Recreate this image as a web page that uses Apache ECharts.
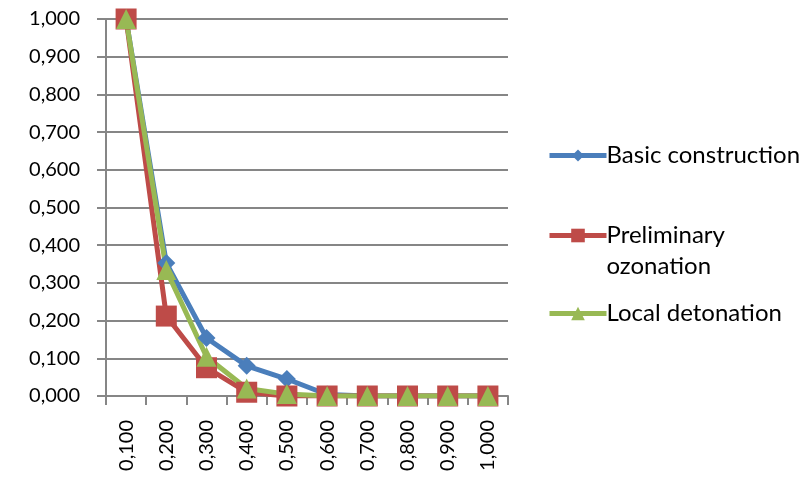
<!DOCTYPE html>
<html><head><meta charset="utf-8">
<script src="https://cdn.jsdelivr.net/npm/echarts@6/dist/echarts.min.js"></script>
<style>html,body{margin:0;padding:0;background:#fff}#c{width:805px;height:488px}</style>
</head><body><div id="c"></div>
<script>
var categories = ['0,100','0,200','0,300','0,400','0,500','0,600','0,700','0,800','0,900','1,000'];
var basic = [1.000, 0.353, 0.154, 0.080, 0.045, 0.004, 0.000, 0.000, 0.000, 0.000];
var preliminary = [1.000, 0.212, 0.075, 0.010, 0.000, 0.000, 0.000, 0.000, 0.000, 0.000];
var local = [1.000, 0.334, 0.104, 0.020, 0.005, 0.000, 0.000, 0.000, 0.000, 0.000];
var names = ['Basic construction', 'Preliminary ozonation', 'Local detonation'];

var font = 'Lato, "Liberation Sans", sans-serif';
var chart = echarts.init(document.getElementById('c'));
function leg(name, top, size, fmt) {
  return {data:[name], orient:'vertical', left:547, top:top, itemWidth:57, itemHeight:size, padding:0,
    lineStyle:{width:5}, formatter:fmt || '{name}',
    textStyle:{fontFamily:font, fontSize:24, color:'#000', lineHeight:31, padding:[0,0,0,-5]}, itemGap:0};
}
chart.setOption({
  animation:false,
  grid:{left:106, right:297, top:19, bottom:92},
  legend:[leg(names[0],140,15), leg(names[1],189,17,function(){return ' \nPreliminary\nozonation';}), leg(names[2],298,17)],
  xAxis:{type:'category', data:categories, boundaryGap:true,
    axisLine:{lineStyle:{color:'#868686', width:2}},
    axisTick:{show:true, length:9, lineStyle:{color:'#868686', width:2}},
    axisLabel:{rotate:90, fontFamily:font, fontSize:20, color:'#000', margin:24}},
  yAxis:{type:'value', min:0, max:1, interval:0.1,
    axisLine:{show:true, lineStyle:{color:'#868686', width:2}},
    axisTick:{show:true, length:9, lineStyle:{color:'#868686', width:2}},
    splitLine:{lineStyle:{color:'#868686', width:2}},
    axisLabel:{fontFamily:font, fontSize:20, color:'#000', margin:26,
      formatter:function(v){return v.toFixed(3).replace('.',',');}}},
  series:[
    {name:names[0], type:'line', data:basic, symbol:'diamond', symbolSize:18,
      lineStyle:{width:5, color:'#4a7ebb'}, itemStyle:{color:'#4a7ebb'}},
    {name:names[1], type:'line', data:preliminary, symbol:'rect', symbolSize:21,
      lineStyle:{width:5, color:'#be4b48'}, itemStyle:{color:'#be4b48'}},
    {name:names[2], type:'line', data:local, symbol:'triangle', symbolSize:20,
      lineStyle:{width:5, color:'#98b954'}, itemStyle:{color:'#98b954'}}
  ]
});
</script></body></html>
